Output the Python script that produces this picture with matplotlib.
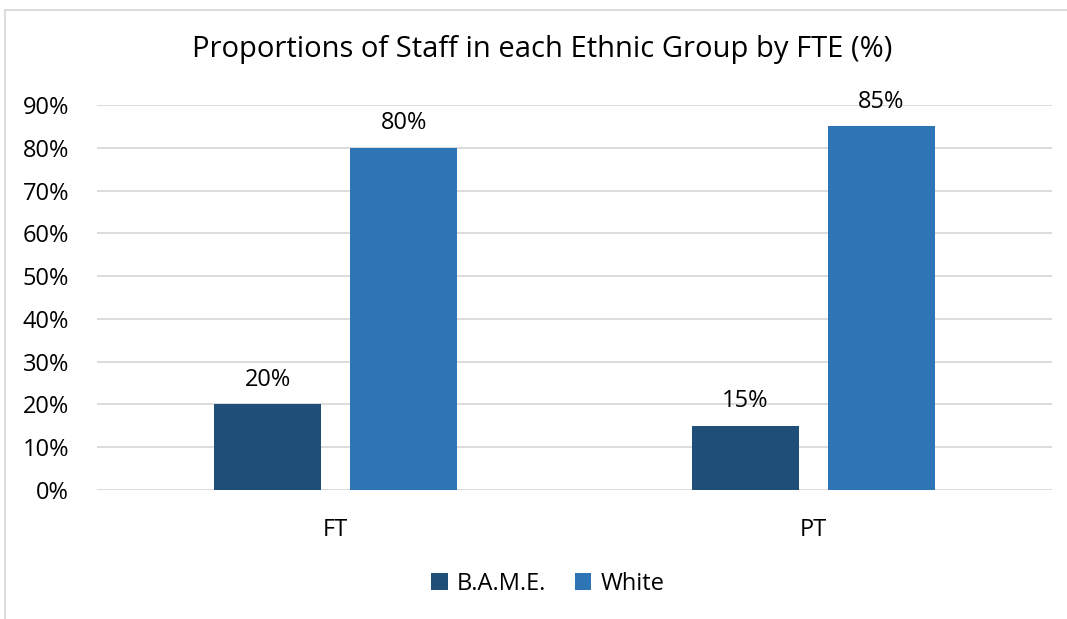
import matplotlib.pyplot as plt
import numpy as np
from matplotlib.lines import Line2D

categories = ["FT", "PT"]
bame = [20, 15]
white = [80, 85]
yticks = [0, 10, 20, 30, 40, 50, 60, 70, 80, 90]

plt.rcParams['font.family'] = ['Open Sans', 'DejaVu Sans']

fig = plt.figure(figsize=(10.67, 6.19), dpi=100)
ax = fig.add_axes([97 / 1067, 129 / 619, 955 / 1067, 385 / 619])

x = np.arange(len(categories))
w = 0.224
off = 0.1425
b1 = ax.bar(x - off, bame, w, color='#1F4E79', label='B.A.M.E.', zorder=3)
b2 = ax.bar(x + off, white, w, color='#2E75B6', label='White', zorder=3)

for bars in (b1, b2):
    for r in bars:
        ax.annotate(f"{r.get_height():.0f}%", (r.get_x() + r.get_width() / 2, r.get_height()),
                    xytext=(0, 9), textcoords='offset points', ha='center', va='bottom',
                    fontsize=17)

ax.set_xlim(-0.5, 1.5)
ax.set_ylim(0, 90)
ax.set_yticks(yticks)
ax.set_yticklabels([f"{v}%" for v in yticks], fontsize=17)
ax.set_xticks(x)
ax.set_xticklabels(categories, fontsize=17)
ax.tick_params(length=0)
ax.tick_params(axis='y', pad=20)
ax.tick_params(axis='x', pad=20)
ax.grid(axis='y', color='#D9D9D9', linewidth=1.3, zorder=0)
for s in ax.spines.values():
    s.set_visible(False)

fig.text(542 / 1067, 1 - 50 / 619, "Proportions of Staff in each Ethnic Group by FTE (%)",
         ha='center', va='center', fontsize=21)

fig.legend(loc='center', bbox_to_anchor=(548 / 1067, 1 - 584 / 619), ncol=2, frameon=False,
           fontsize=17, handlelength=0.7, handleheight=0.7, handletextpad=0.4, columnspacing=1.2)

# chart border (top and left visible)
fig.add_artist(Line2D([5 / 1067, 5 / 1067], [0, 1 - 10 / 619], transform=fig.transFigure,
                      color='#D9D9D9', linewidth=1.3))
fig.add_artist(Line2D([5 / 1067, 1], [1 - 10 / 619, 1 - 10 / 619], transform=fig.transFigure,
                      color='#D9D9D9', linewidth=1.3))

fig.savefig("out.png", dpi=100)
